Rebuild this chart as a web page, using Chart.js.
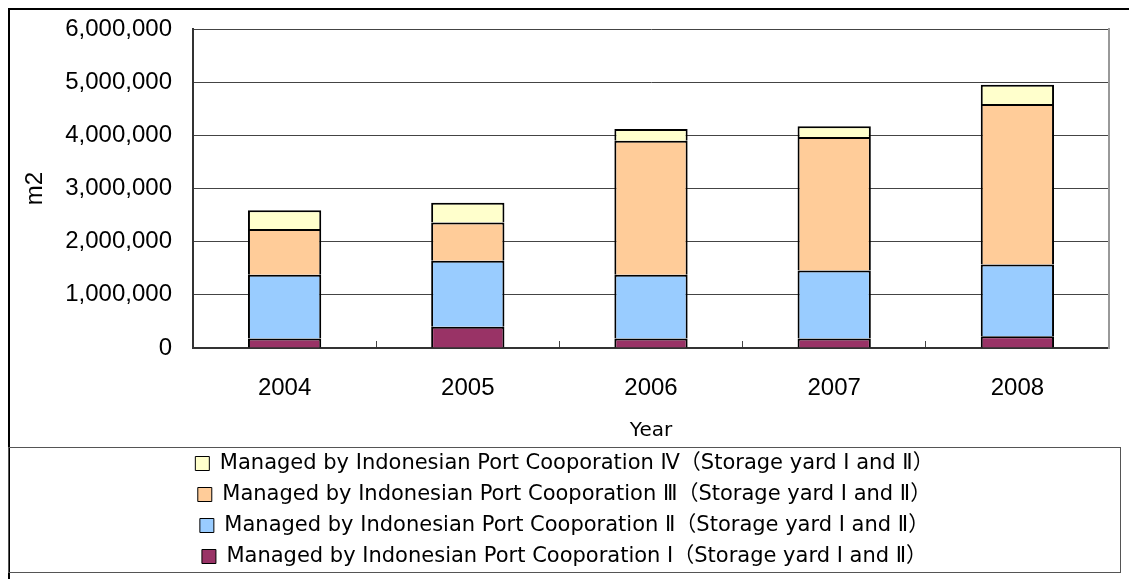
<!DOCTYPE html>
<html>
<head>
<meta charset="utf-8">
<title>Storage yard area</title>
<script src="https://cdn.jsdelivr.net/npm/chart.js@4.4.1/dist/chart.umd.min.js"></script>
<style>
  html, body { margin: 0; padding: 0; background: #fff; overflow: hidden; }
  #wrap { position: relative; width: 1129px; height: 579px; }
  /* outer chart frame, runs off the right/bottom like the screenshot */
  #frame { position: absolute; left: 8px; top: 8px; width: 1300px; height: 800px;
           border-left: 2px solid #000; border-top: 2px solid #000; }
  #chart { position: absolute; left: 0; top: 0; }
</style>
</head>
<body>
<div id="wrap">
  <div id="frame"></div>
  <canvas id="chart" width="1129" height="579"></canvas>
</div>
<script>
/* ---------- data ---------- */
const years = ["2004", "2005", "2006", "2007", "2008"];

const seriesNames = [
  "Managed by Indonesian Port Cooporation Ⅰ（Storage yard Ⅰ and Ⅱ）",
  "Managed by Indonesian Port Cooporation Ⅱ（Storage yard Ⅰ and Ⅱ）",
  "Managed by Indonesian Port Cooporation Ⅲ（Storage yard Ⅰ and Ⅱ）",
  "Managed by Indonesian Port Cooporation Ⅳ（Storage yard Ⅰ and Ⅱ）"
];

// m2 per year
const portI   = [180000, 400000, 180000, 180000, 220000];
const portII  = [1200000, 1240000, 1200000, 1280000, 1350000];
const portIII = [860000, 720000, 2520000, 2510000, 3020000];
const portIV  = [350000, 370000, 220000, 200000, 360000];

const seriesColors = ["#993366", "#99CCFF", "#FFCC99", "#FFFFCC"];

const yMax = 6000000;
const yStep = 1000000;

/* ---------- helpers ---------- */
const numFont = '"Liberation Sans", Arial, sans-serif';
const jpFont = '"DejaVu Sans", "Noto Sans CJK JP", sans-serif';

// box drawn round the legend, like the excel legend frame
const legendFrame = {
  id: "legendFrame",
  afterDraw(chart) {
    const lg = chart.legend;
    if (!lg) return;
    const ctx = chart.ctx;
    ctx.save();
    ctx.strokeStyle = "#555";
    ctx.lineWidth = 1;
    ctx.strokeRect(lg.left + 0.5, lg.top + 4.5, lg.width - 1, lg.height - 9);
    ctx.restore();
  }
};

const allSeries = [portI, portII, portIII, portIV];

new Chart(document.getElementById("chart"), {
  type: "bar",
  data: {
    labels: years,
    datasets: allSeries.map((vals, i) => ({
      label: seriesNames[i],
      data: vals,
      backgroundColor: seriesColors[i],
      borderColor: "#000",
      borderWidth: 2,
      barPercentage: 0.4,
      categoryPercentage: 1.0
    }))
  },
  options: {
    responsive: false,
    devicePixelRatio: 1,
    animation: false,
    layout: { padding: { left: 8, right: 8, top: 29, bottom: 2 } },
    plugins: {
      tooltip: { enabled: false },
      legend: {
        position: "bottom",
        align: "center",
        reverse: true,
        labels: {
          boxWidth: 14,
          boxHeight: 14,
          padding: 10,
          color: "#000",
          font: { family: jpFont, size: 21 },
          generateLabels(chart) {
            const items = Chart.defaults.plugins.legend.labels.generateLabels(chart);
            items.forEach(it => { it.lineWidth = 1; it.strokeStyle = "#000"; });
            return items;
          }
        }
      }
    },
    scales: {
      x: {
        stacked: true,
        ticks: { padding: 33, color: "#000", font: { family: numFont, size: 24 } },
        grid: { drawOnChartArea: false, color: "#444", tickLength: -7 },
        border: { color: "#333", width: 2 },
        title: {
          display: true, text: "Year", color: "#000",
          font: { family: jpFont, size: 20 },
          padding: { top: 0, bottom: 0 }
        },
        afterFit(s) { s.height = 95; }
      },
      y: {
        stacked: true,
        min: 0,
        max: yMax,
        ticks: {
          stepSize: yStep,
          padding: 28,
          color: "#000",
          font: { family: numFont, size: 24 },
          callback: v => Number(v).toLocaleString("en-US")
        },
        grid: { color: "#444", lineWidth: 1, tickLength: -7 },
        border: { color: "#333", width: 2 },
        title: {
          display: true, text: "m2", color: "#000",
          font: { family: numFont, size: 24 },
          padding: { top: 13, bottom: 0 }
        },
        afterFit(s) {
          s.width = 185;
          // tick padding would otherwise push the plot top down
          s.paddingTop = 0;
          s.paddingBottom = 0;
        }
      },
      // empty right axis: gives the grey right edge of the plot
      yRight: {
        position: "right",
        grid: { display: false },
        ticks: { display: false },
        border: { color: "#999", width: 2 },
        afterFit(s) { s.width = 12; }
      }
    }
  },
  plugins: [legendFrame]
});
</script>
</body>
</html>
